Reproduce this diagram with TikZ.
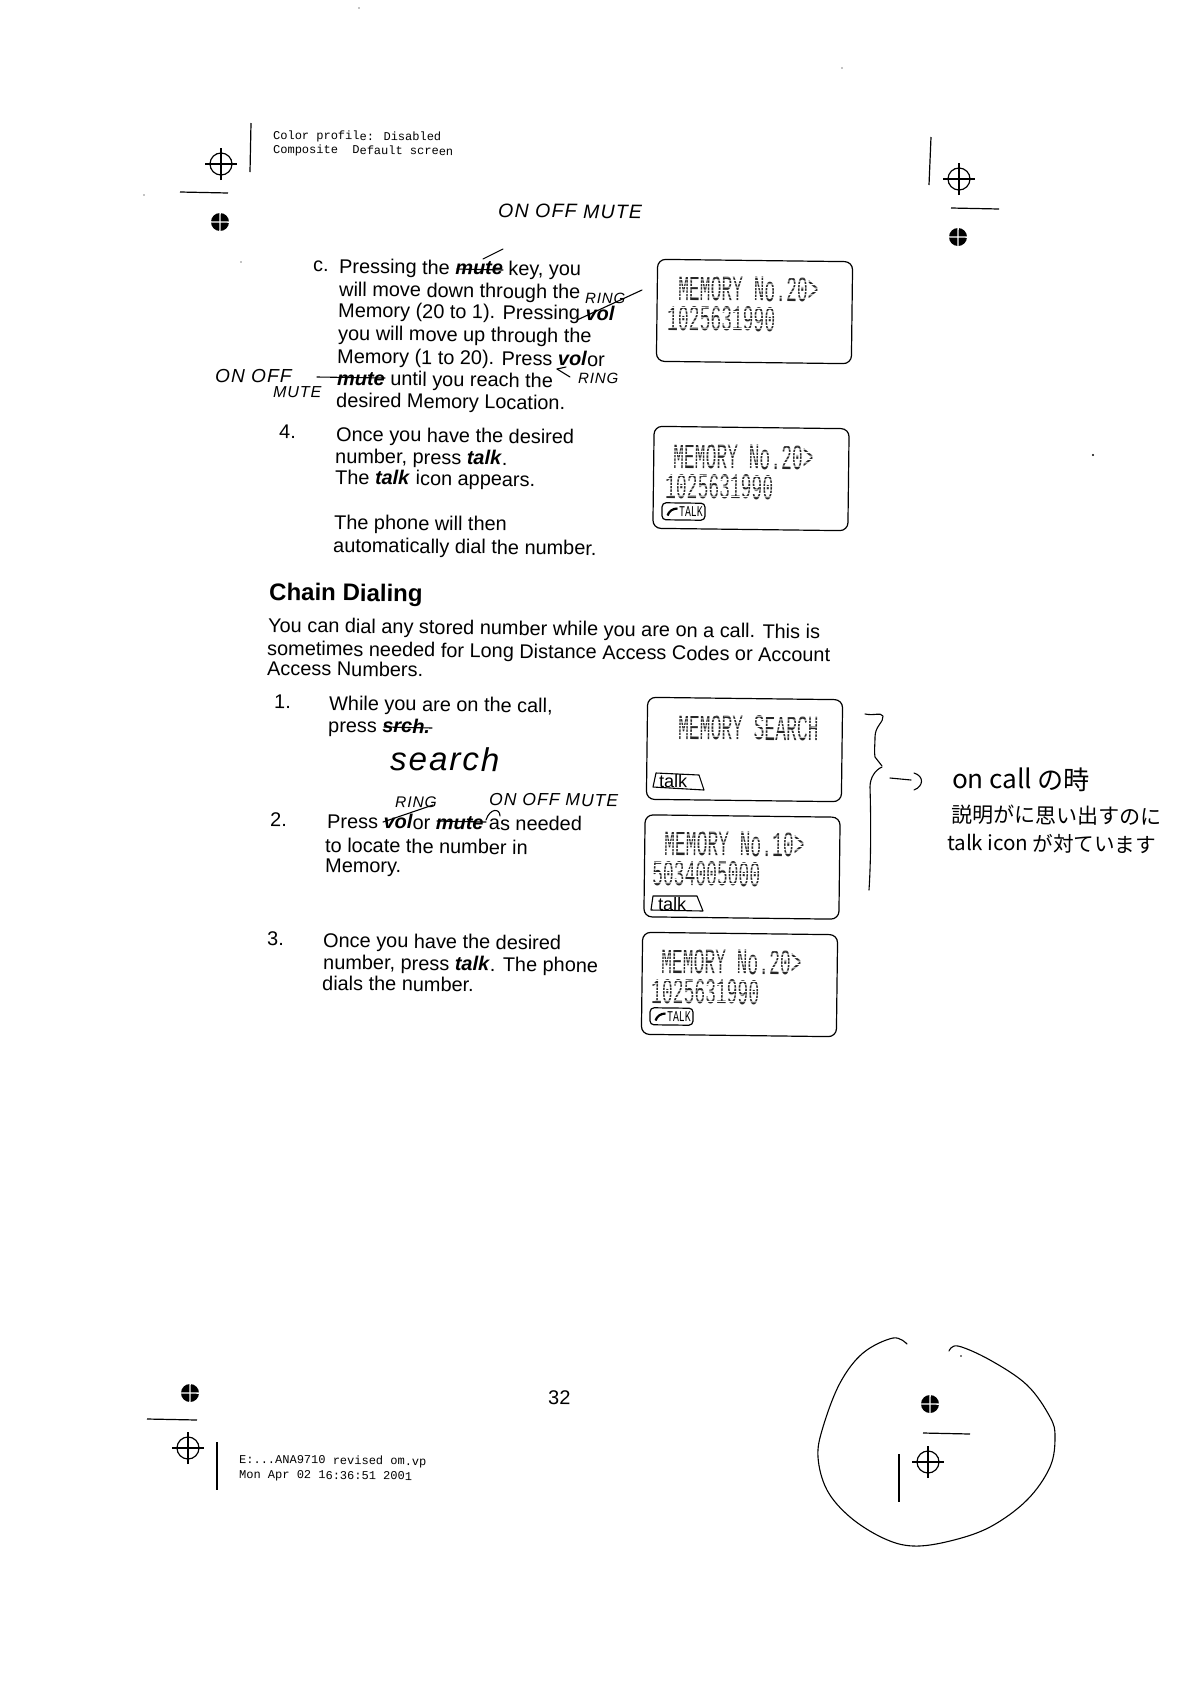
\documentclass[tikz,border=0pt]{standalone}
\usepackage{fontspec}
\setmainfont{Liberation Sans}
\newfontfamily\lcdfont{Liberation Mono}
\newfontfamily\codefont{Liberation Mono}
\newfontfamily\jpfont{Noto Sans CJK JP}
\newfontfamily\handfont[LetterSpace=6]{Liberation Sans}
\newcommand{\keyword}[1]{\textbf{\textit{#1}}}
\newcommand{\crosshair}[3]{%
  \node[regcircle] (#1) at (#2,#3) {};
  \draw[regline] ([xshift=-16pt]#1.center) -- ([xshift=16pt]#1.center);
  \draw[regline] ([yshift=-16pt]#1.center) -- ([yshift=16pt]#1.center);
}
\newcommand{\regdisc}[3]{%
  \node[regfill] (#1) at (#2,#3) {};
  \draw[white,line width=1.3pt] (#1.west) -- (#1.east);
  \draw[white,line width=1.3pt] (#1.north) -- (#1.south);
}
% white rows break the lcd text into dots
\newcommand{\lcdrows}[3]{%
  \foreach \row in {1,...,7} {
    \draw[white,line width=0.9pt] (#1,#2-\row*3.4) -- ++(#3,#3*0.012);
  }
}
\tikzset{
  bodyline/.style={anchor=base west,inner sep=0pt,font=\fontsize{19.9}{22}\selectfont},
  headline/.style={anchor=base west,inner sep=0pt,font=\fontsize{24}{26}\selectfont\bfseries},
  codeline/.style={anchor=base west,inner sep=0pt,font=\fontsize{12}{14}\codefont},
  handnote/.style={anchor=base west,inner sep=0pt,font=\fontsize{19.5}{20}\handfont\itshape},
  jpnote/.style={anchor=base west,inner sep=0pt,font=\fontsize{20.5}{21}\jpfont},
  lcdbox/.style={draw,rounded corners=8pt,line width=1.2pt,minimum width=195pt,minimum height=102pt},
  lcdtext/.style={anchor=base west,inner sep=0pt,xscale=0.5,text=black!85,font=\fontsize{36}{38}\lcdfont},
  talkbox/.style={draw,rounded corners=4pt,line width=1.2pt,minimum width=43pt,minimum height=17pt,inner sep=0pt},
  talktext/.style={inner sep=0pt,xscale=0.65,font=\fontsize{15}{16}\lcdfont},
  regcircle/.style={circle,draw,line width=1.2pt,minimum size=22pt,inner sep=0pt},
  regfill/.style={circle,fill=black,minimum size=18pt,inner sep=0pt},
  regline/.style={line width=1.2pt},
  handline/.style={line width=1.1pt,line cap=round,line join=round},
}
\begin{document}
\begin{tikzpicture}[x=1pt,y=-1pt,every node/.append style={rotate=-0.7}]
  \useasboundingbox (0,0) rectangle (1190,1682);
  % Printer marks
  \crosshair{crossA}{221}{164}
  \crosshair{crossB}{959}{179}
  \crosshair{crossC}{188}{1448}
  \crosshair{crossD}{928}{1462}
  \regdisc{discA}{220}{222}
  \regdisc{discB}{958}{237}
  \regdisc{discC}{190}{1393}
  \regdisc{discD}{930}{1404}
  \draw[regline] (251,123) -- (250,172);
  \draw[regline] (180,192) -- (228,193);
  \draw[regline] (931,137) -- (929,185);
  \draw[regline] (951,208) -- (999,209);
  \draw[regline] (217,1442) -- (217,1490);
  \draw[regline] (147,1419) -- (197,1420);
  \draw[regline] (899,1454) -- (899,1502);
  \draw[regline] (923,1433) -- (970,1434);
  \node[codeline] (color) at (273,139) {Color profile: Disabled};
  \node[codeline] (screen) at (273,153) {Composite\ \ Default screen};
  \node[codeline] (file) at (239,1463) {E:...ANA9710 revised om.vp};
  \node[codeline] (date) at (239,1478) {Mon Apr 02 16:36:51 2001};
  \node[bodyline] (page) at (548,1404) {32};

  % Step c
  \node[bodyline] (stepc) at (313,271) {c.};
  \node[bodyline] (c1) at (339,273) {Pressing the \keyword{mute} key, you};
  \node[bodyline] (c2) at (339,296) {will move down through the};
  \node[bodyline] (c3) at (338,317) {Memory (20 to 1). Pressing \keyword{vol}};
  \node[bodyline] (c4) at (338,340) {you will move up through the};
  \node[bodyline] (c5) at (337,363) {Memory (1 to 20). Press \keyword{vol}or};
  \node[bodyline] (c6) at (337,385) {\keyword{mute} until you reach the};
  \node[bodyline] (c7) at (336,407) {desired Memory Location.};

  % Step 4
  \node[bodyline] (step4) at (279,438) {4.};
  \node[bodyline] (d1) at (336,441) {Once you have the desired};
  \node[bodyline] (d2) at (335,463) {number, press \keyword{talk}.};
  \node[bodyline] (d3) at (335,484) {The \keyword{talk} icon appears.};
  \node[bodyline] (d4) at (334,529) {The phone will then};
  \node[bodyline] (d5) at (333,552) {automatically dial the number.};

  % Chain dialing
  \node[headline] (chain) at (269,600) {Chain Dialing};
  \node[bodyline] (e1) at (268,632) {You can dial any stored number while you are on a call. This is};
  \node[bodyline] (e2) at (267,655) {sometimes needed for Long Distance Access Codes or Account};
  \node[bodyline] (e3) at (267,675) {Access Numbers.};
  \node[bodyline] (num1) at (274,708) {1.};
  \node[bodyline] (f1) at (329,710) {While you are on the call,};
  \node[bodyline] (f2) at (328,732) {press \keyword{srch.}};
  \node[bodyline] (num2) at (270,826) {2.};
  \node[bodyline] (g1) at (327,828) {Press \keyword{vol}or \keyword{mute} as needed};
  \node[bodyline] (g2) at (325,852) {to locate the number in};
  \node[bodyline] (g3) at (325,872) {Memory.};
  \node[bodyline] (num3) at (267,945) {3.};
  \node[bodyline] (h1) at (323,947) {Once you have the desired};
  \node[bodyline] (h2) at (323,969) {number, press \keyword{talk}. The phone};
  \node[bodyline] (h3) at (322,990) {dials the number.};

  % LCD screens
  \node[lcdbox] (lcdA) at (754.5,311.5) {};
  \node[lcdbox] (lcdB) at (751,478.5) {};
  \node[lcdbox] (lcdC) at (744.5,749.5) {};
  \node[lcdbox] (lcdD) at (742,867) {};
  \node[lcdbox] (lcdE) at (739.5,984.5) {};
  \node[lcdtext] (titleA) at (678,300) {MEMORY No.20>};
  \node[lcdtext] (digitsA) at (667,330) {1025631990};
  \lcdrows{675}{300}{146}
  \lcdrows{664}{331}{114}
  \node[lcdtext] (titleB) at (673,468) {MEMORY No.20>};
  \node[lcdtext] (digitsB) at (665,498) {1025631990};
  \lcdrows{670}{468}{146}
  \lcdrows{662}{499}{114}
  \node[lcdtext] (titleC) at (678,739) {MEMORY SEARCH};
  \lcdrows{675}{739}{146}
  \node[lcdtext] (titleD) at (664,855) {MEMORY No.10>};
  \node[lcdtext] (digitsD) at (652,885) {5034005000};
  \lcdrows{661}{855}{146}
  \lcdrows{649}{886}{114}
  \node[lcdtext] (titleE) at (661,973) {MEMORY No.20>};
  \node[lcdtext] (digitsE) at (651,1003) {1025631990};
  \lcdrows{658}{973}{146}
  \lcdrows{648}{1004}{114}

  % Talk icons
  \node[talkbox] (talkB) at (683.5,511.5) {};
  \node[talktext] (talkBtext) at (691,511.5) {TALK};
  \draw[line width=2.2pt] ([shift={(-16,4)}]talkB.center) to[bend left=35] ([shift={(-6,-3)}]talkB.center);
  \node[talkbox] (talkE) at (671.5,1016.5) {};
  \node[talktext] (talkEtext) at (679,1016.5) {TALK};
  \draw[line width=2.2pt] ([shift={(-16,4)}]talkE.center) to[bend left=35] ([shift={(-6,-3)}]talkE.center);
  \draw[handline] (656,773) -- (699,775) -- (704,790) -- (653,787) -- cycle;
  \node[handnote,font=\fontsize{18}{19}\selectfont] (talkC) at (659,787) {talk};
  \draw[handline] (653,896) -- (697,896) -- (703,911) -- (651,910) -- cycle;
  \node[handnote,font=\fontsize{18}{19}\selectfont] (talkD) at (658,910) {talk};

  % Hand notes
  \node[handnote] (onoffA) at (498,217) {ON OFF MUTE};
  \node[handnote,font=\fontsize{15}{16}\handfont\itshape] (ringA) at (585,303) {RING};
  \node[handnote,font=\fontsize{15}{16}\handfont\itshape] (ringB) at (578,383) {RING};
  \node[handnote,font=\fontsize{19}{20}\handfont\itshape] (onoffB) at (215,382) {ON OFF};
  \node[handnote,font=\fontsize{16}{18}\handfont\itshape] (muteB) at (273,397) {MUTE};
  \node[handnote,font=\fontsize{33}{34}\handfont\itshape] (searchnote) at (390,770) {search};
  \node[handnote,font=\fontsize{15.5}{16}\handfont\itshape] (ringC) at (395,807) {RING};
  \node[handnote,font=\fontsize{17.5}{18}\handfont\itshape] (onoffC) at (489,805) {ON OFF MUTE};
  \node[jpnote,font=\fontsize{26}{27}\jpfont] (noteA) at (952,788) {on call の時};
  \node[jpnote,font=\fontsize{21}{22}\jpfont] (noteB) at (951,822) {説明がに思い出すのに};
  \node[jpnote,font=\fontsize{20.5}{21}\jpfont] (noteC) at (947,850) {talk icon が対ています};

  % Hand strokes
  \draw[handline] (457,269) -- (503,270);
  \draw[handline] (483,259) -- (503,249);
  \draw[handline] (577,320) -- (642,290);
  \draw[handline] (317,377) -- (385,378);
  \draw[handline] (557,369) -- (570,377);
  \draw[handline] (557,369) -- (566,367);
  \draw[handline] (383,822) -- (433,805);
  \draw[handline] (384,727) -- (432,728);
  \draw[handline] (437,821) -- (486,822);
  \draw[handline] (486,820) .. controls (490,808) and (500,808) .. (500,816);
  \draw[handline] (865,714) .. controls (875,716) and (880,712) .. (883,716)
    .. controls (884,722) and (875,726) .. (875,737)
    .. controls (875,745) and (874,752) .. (875,757) -- (882,766);
  \draw[handline] (882,767) .. controls (875,770) and (870,778) .. (870,787)
    .. controls (871,820) and (871,860) .. (869,890);
  \draw[handline] (890,778) -- (911,780);
  \draw[handline] (914,773) .. controls (924,776) and (924,786) .. (914,790);
  \draw[handline] plot[smooth,tension=0.6] coordinates {
    (949,1351) (958,1346) (990,1360) (1027,1385) (1050,1417) (1055,1437)
    (1050,1467) (1027,1500) (990,1527) (950,1541) (913,1546) (883,1538)
    (850,1517) (827,1490) (818,1457) (823,1427) (840,1383) (863,1353)
    (893,1338) (907,1344)};

  % Specks
  \fill (359,8) circle (0.7);
  \fill (842,68) circle (0.7);
  \fill (241,262) circle (0.7);
  \fill (144,195) circle (0.7);
  \fill (961,1356) circle (0.8);
  \fill (1093,455) circle (1.2);
\end{tikzpicture}
\end{document}
